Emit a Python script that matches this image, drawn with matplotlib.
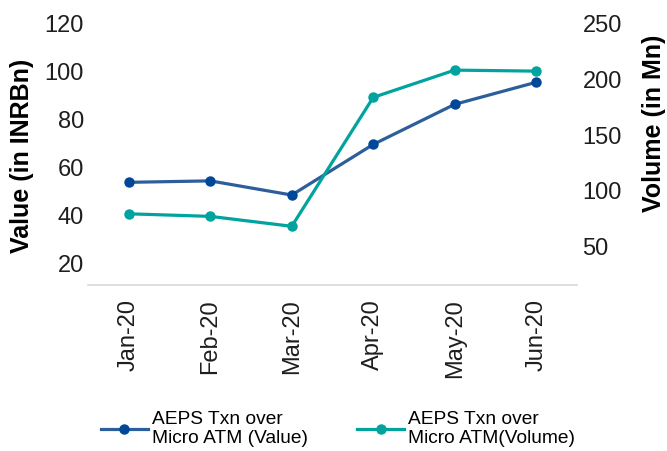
import matplotlib
matplotlib.use("Agg")
import matplotlib.pyplot as plt

# values
months = ["Jan-20", "Feb-20", "Mar-20", "Apr-20", "May-20", "Jun-20"]
value_inr_bn = [53.8, 54.4, 48.5, 69.6, 86.3, 95.5]
volume_mn = [79.5, 77.2, 68.3, 183.8, 208.2, 207.3]

value_ticks = [20, 40, 60, 80, 100, 120]
volume_ticks = [50, 100, 150, 200, 250]

value_label = "AEPS Txn over\nMicro ATM (Value)"
volume_label = "AEPS Txn over\nMicro ATM(Volume)"

plt.rcParams['font.family'] = ['Liberation Sans', 'DejaVu Sans']

fig = plt.figure(figsize=(6.67, 4.51), dpi=100)
ax = fig.add_axes([0.132, 0.368, 0.733, 0.580])
ax2 = ax.twinx()

x = list(range(len(months)))
l1, = ax.plot(x, value_inr_bn, color='#2B5E9A', lw=2.3, marker='o', ms=6.5,
              mfc='#00479A', mec='#00479A', label=value_label, zorder=3)
l2, = ax2.plot(x, volume_mn, color='#00A39E', lw=2.3, marker='o', ms=6.5,
               mfc='#00A39E', mec='#00A39E', label=volume_label, zorder=3)

ax.set_xlim(-0.5, len(months) - 0.5)
ax.set_ylim(11, 120)
ax2.set_ylim(15.7, 250)

ax.set_xticks(x)
ax.set_xticklabels(months, rotation=90, fontsize=17, color='#1E1E1E')
ax.set_yticks(value_ticks)
ax.set_yticklabels([str(v) for v in value_ticks], fontsize=17, color='#1E1E1E')
ax2.set_yticks(volume_ticks)
ax2.set_yticklabels([str(v) for v in volume_ticks], fontsize=17, color='#1E1E1E')

ax.tick_params(axis='x', length=0, pad=10)
ax.tick_params(axis='y', length=0, pad=3)
ax2.tick_params(axis='y', length=0, pad=4)

for s in ['top', 'left', 'right']:
    ax.spines[s].set_visible(False)
for s in ax2.spines.values():
    s.set_visible(False)
ax.spines['bottom'].set_color('#D9D9D9')
ax.spines['bottom'].set_linewidth(1.2)

ax.set_ylabel("Value (in INRBn)", fontsize=18, fontweight='bold')
ax.yaxis.set_label_coords(-0.11, 0.495)
ax2.set_ylabel("Volume (in Mn)", fontsize=18, fontweight='bold')
ax2.yaxis.set_label_coords(1.133, 0.62)

fig.legend(handles=[l1, l2], loc='upper left', bbox_to_anchor=(0.151, 0.089),
           ncol=2, frameon=False, fontsize=13.8, handlelength=2.45,
           handletextpad=0.2, columnspacing=2.6, borderpad=0,
           borderaxespad=0)

fig.savefig("out.png", dpi=100)
